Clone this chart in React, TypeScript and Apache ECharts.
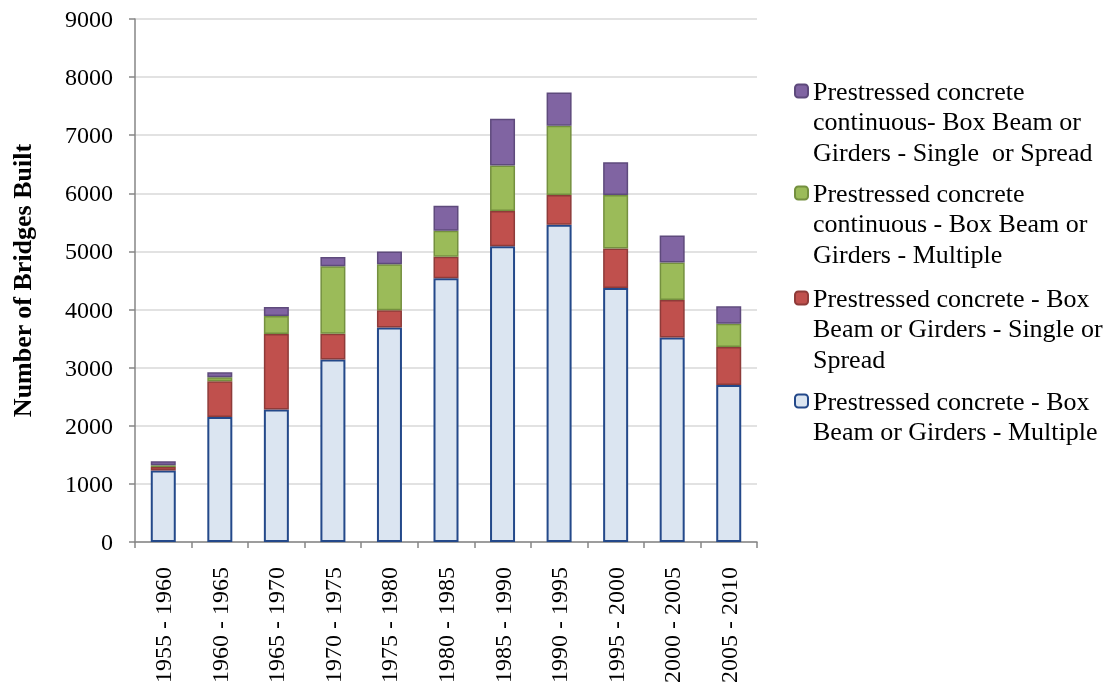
import React, { useEffect, useRef } from "react";
import * as echarts from "echarts";

const categories = [
  "1955 - 1960", "1960 - 1965", "1965 - 1970", "1970 - 1975", "1975 - 1980", "1980 - 1985",
  "1985 - 1990", "1990 - 1995", "1995 - 2000", "2000 - 2005", "2005 - 2010",
];

const boxMultiple = [1230, 2150, 2280, 3140, 3690, 4540, 5090, 5460, 4370, 3520, 2700];
const boxSingle = [60, 615, 1300, 445, 300, 370, 605, 510, 680, 645, 655];
const contMultiple = [30, 70, 310, 1160, 790, 445, 785, 1195, 920, 645, 400];
const contSingle = [70, 85, 155, 160, 220, 430, 805, 570, 565, 465, 300];

const seriesNames = [
  "Prestressed concrete - Box Beam or Girders - Multiple",
  "Prestressed concrete - Box Beam or Girders - Single or Spread",
  "Prestressed concrete continuous - Box Beam or Girders - Multiple",
  "Prestressed concrete continuous- Box Beam or Girders - Single or Spread",
];
const legendLines = [
  ["Prestressed concrete - Box", "Beam or Girders - Multiple"],
  ["Prestressed concrete - Box", "Beam or Girders - Single or", "Spread"],
  ["Prestressed concrete", "continuous - Box Beam or", "Girders - Multiple"],
  ["Prestressed concrete", "continuous- Box Beam or", "Girders - Single  or Spread"],
];
const yTicks = [0, 1000, 2000, 3000, 4000, 5000, 6000, 7000, 8000, 9000];

const fills = ["#dbe5f1", "#c0504d", "#9bbb59", "#8064a2"];
const borders = ["#24498a", "#8e3b39", "#74903f", "#5e4a7c"];

const FONT = "'Liberation Serif', 'Times New Roman', serif";

export default function App() {
  const ref = useRef<HTMLDivElement>(null);
  useEffect(() => {
    if (!ref.current) return;
    const chart = echarts.init(ref.current, undefined, { renderer: "svg" });
    const data = [boxMultiple, boxSingle, contMultiple, contSingle];
    const LH = 30.5;
    const centers = [401, 298, 193, 91];
    const legends = seriesNames.map((name, i) => {
      const n = legendLines[i].length;
      const pad = "\n".repeat(n - 1);
      return {
        show: true,
        data: [name],
        left: 794,
        top: centers[i] - (n - 1) * LH - LH / 2,
        orient: "vertical",
        padding: 0,
        itemWidth: 13,
        itemHeight: 13,
        itemGap: 0,
        selectedMode: false,
        formatter: () => pad + legendLines[i].join("\n"),
        textStyle: {
          fontFamily: FONT,
          fontSize: 26,
          color: "#000",
          lineHeight: LH,
        },
      };
    });
    chart.setOption({
      animation: false,
      textStyle: { fontFamily: FONT },
      grid: { left: 135, right: 354, top: 19, bottom: 156, containLabel: false },
      legend: legends,
      xAxis: {
        type: "category",
        data: categories,
        axisLine: { lineStyle: { color: "#868686", width: 1.5 } },
        axisTick: { show: true, length: 6, lineStyle: { color: "#868686", width: 1.5 } },
        axisLabel: { rotate: 90, fontSize: 24, color: "#000", fontFamily: FONT, margin: 25, interval: 0 },
      },
      yAxis: {
        type: "value",
        min: 0,
        max: 9000,
        interval: 1000,
        name: "Number of Bridges Built",
        nameLocation: "middle",
        nameGap: 100,
        nameRotate: 90,
        nameTextStyle: { fontFamily: FONT, fontSize: 26, fontWeight: "bold", color: "#000" },
        axisLine: { show: true, lineStyle: { color: "#868686", width: 1.5 } },
        axisTick: { show: true, length: 6, lineStyle: { color: "#868686", width: 1.5 } },
        axisLabel: {
          fontSize: 24,
          color: "#000",
          fontFamily: FONT,
          margin: 22,
          formatter: (v: number) => (yTicks.includes(v) ? String(v) : ""),
        },
        splitLine: { lineStyle: { color: "#d9d9d9", width: 1.5 } },
      },
      series: data.map((d, i) => ({
        name: seriesNames[i],
        type: "bar",
        stack: "total",
        data: d,
        barWidth: 25,
        itemStyle: { color: fills[i], borderColor: borders[i], borderWidth: i === 0 ? 2 : 1.5 },
      })),
    });
    return () => chart.dispose();
  }, []);
  return <div ref={ref} style={{ position: "fixed", left: 0, top: 0, width: 1111, height: 698 }} />;
}
